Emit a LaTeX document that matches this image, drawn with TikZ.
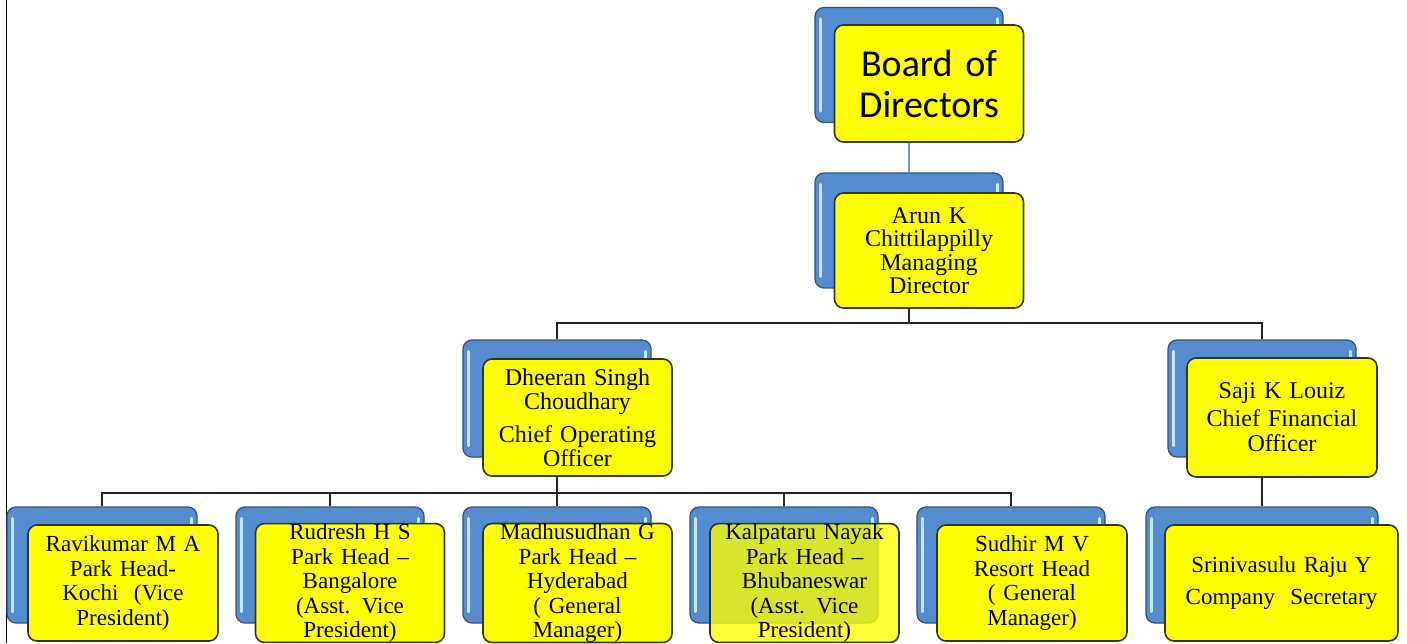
\documentclass[tikz,border=0pt]{standalone}
\usepackage{fontspec}
\setmainfont{Liberation Serif}
\newfontfamily\boardfont{Carlito}
\usetikzlibrary{calc}
\definecolor{bluefill}{RGB}{84,141,207}
\definecolor{blueedge}{RGB}{52,82,118}
\definecolor{yel}{RGB}{255,255,0}
\definecolor{yeledge}{RGB}{50,50,40}
\definecolor{hilite}{RGB}{195,232,252}
\definecolor{toplink}{RGB}{120,150,185}
\begin{document}
\begin{tikzpicture}[x=1pt,y=-1pt,
  bluebox/.style={draw=blueedge, line width=1.3pt, fill=bluefill, rounded corners=9pt, minimum width=188pt, minimum height=115pt, inner sep=0pt},
  yelbox/.style={draw=yeledge, line width=1.6pt, fill=yel, rounded corners=9pt, minimum width=189pt, minimum height=117pt, inner sep=0pt, align=center, text width=184pt, font=\fontsize{23}{24.5}\selectfont},
  link/.style={draw=black!85, line width=1.3pt},
  hl/.style={draw=hilite, line width=3pt, line cap=round}]
\useasboundingbox (0,0) rectangle (1407,643);
\draw[black, line width=1pt] (6,0) -- (6,643);

% blue back boxes
\node[bluebox] (bBoard) at (909,65) {};
\node[bluebox] (bArun) at (909,230.5) {};
\node[bluebox, minimum height=117pt] (bDheeran) at (557,398.5) {};
\node[bluebox, minimum height=117pt] (bSaji) at (1262,398.5) {};
\node[bluebox, minimum width=190pt, minimum height=116pt] (bRavi) at (102,565) {};
\node[bluebox, minimum height=116pt] (bRudresh) at (330,565) {};
\node[bluebox, minimum height=116pt] (bMadhu) at (557,565) {};
\node[bluebox, minimum height=116pt] (bKalpa) at (784,565) {};
\node[bluebox, minimum height=116pt] (bSudhir) at (1011,565) {};
\node[bluebox, minimum width=232pt, minimum height=116pt] (bSrini) at (1262,565) {};

\foreach \b in {bBoard,bArun,bDheeran,bSaji,bRavi,bRudresh,bMadhu,bKalpa,bSudhir,bSrini}{
  \draw[hl] ($(\b.north west)+(6,12)$) -- ($(\b.south west)+(6,-12)$);
  \draw[hl] ($(\b.north east)+(-6,12)$) -- ($(\b.north east)+(-6,30)$);
}

% connectors
\coordinate (h1) at (0,323);
\coordinate (h2) at (0,493);

% yellow front boxes
\node[yelbox, minimum height=117pt, font=\boardfont\fontsize{38}{41}\selectfont] (yBoard) at (929,83.5) {Board of\\Directors};
\node[yelbox, minimum height=115pt, font=\fontsize{24}{23.5}\selectfont] (yArun) at (929,250.5) {Arun K\\Chittilappilly\\Managing\\Director};
\node[yelbox, font=\fontsize{24}{24}\selectfont] (yDheeran) at (577.5,417.5) {Dheeran Singh\\Choudhary\\[9pt]Chief Operating\\Officer};
\node[yelbox, minimum width=190pt, minimum height=119pt, font=\fontsize{24}{25}\selectfont] (ySaji) at (1282,417.5) {Saji K Louiz\\[3pt]Chief Financial\\Officer};

\draw[draw=toplink, line width=1.2pt] (yBoard.south -| bArun.north) -- (bArun.north);
\draw[link] (yArun.south -| bArun.north) -- (bArun.north |- h1);
\draw[link] (bDheeran.north) -- (bDheeran.north |- h1) -- (bSaji.north |- h1) -- (bSaji.north);
\draw[link] (yDheeran.south -| bDheeran.north) -- (bDheeran.north |- h2);
\draw[link] (bRavi.north) -- (bRavi.north |- h2) -- (bSudhir.north |- h2) -- (bSudhir.north);
\draw[link] (bRudresh.north) -- (bRudresh.north |- h2);
\draw[link] (bMadhu.north) -- (bMadhu.north |- h2);
\draw[link] (bKalpa.north) -- (bKalpa.north |- h2);
\draw[link] (ySaji.south -| bSaji.north) -- (bSrini.north);

\node[yelbox, minimum width=190pt, minimum height=116pt] (yRavi) at (123,583) {Ravikumar M A\\Park Head-\\Kochi~ (Vice\\President)};
\node[yelbox, minimum height=116pt] (yRudresh) at (350,583) {Rudresh H S\\Park Head --\\Bangalore\\(Asst. Vice\\President)};
\node[yelbox, minimum height=116pt] (yMadhu) at (577.5,583) {Madhusudhan G\\Park Head --\\Hyderabad\\( General\\Manager)};
\node[yelbox, minimum height=116pt, fill opacity=0.78, text opacity=1] (yKalpa) at (804.5,583) {Kalpataru Nayak\\Park Head --\\Bhubaneswar\\(Asst. Vice\\President)};
\node[yelbox, minimum width=190pt, minimum height=116pt] (ySudhir) at (1032,583) {Sudhir M V\\Resort Head\\( General\\Manager)};
\node[yelbox, minimum width=233pt, minimum height=116pt, text width=228pt] (ySrini) at (1281.5,583) {Srinivasulu Raju Y\\[8pt]Company~ Secretary};
\end{tikzpicture}
\end{document}
